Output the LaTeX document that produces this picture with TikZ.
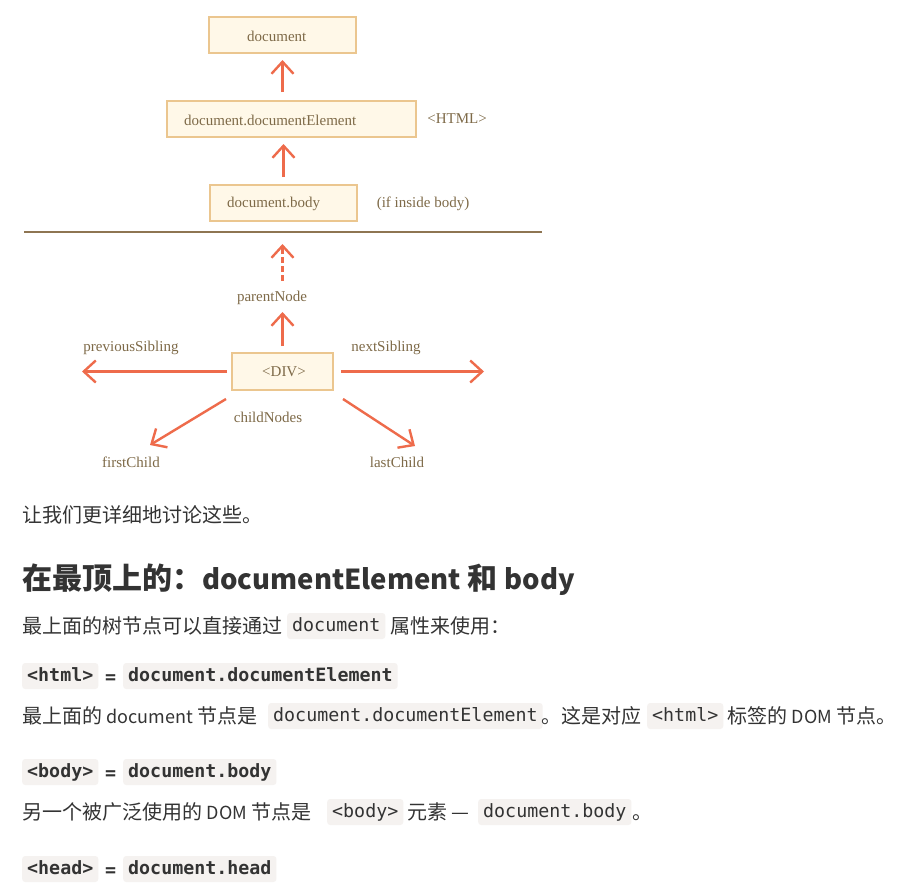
\documentclass[tikz,border=0pt]{standalone}
\usepackage{fontspec}
\setmainfont{Noto Sans CJK SC}
\newfontfamily\dgfont{Liberation Serif}
\newfontfamily\cdfont{DejaVu Sans Mono}
\usetikzlibrary{arrows.meta,calc}
\definecolor{boxfill}{HTML}{FFF8E8}
\definecolor{boxline}{HTML}{EBC68F}
\definecolor{arrowc}{HTML}{EE6B4B}
\definecolor{lblc}{HTML}{7E6A48}
\definecolor{rulec}{HTML}{8E7552}
\definecolor{codebg}{HTML}{F5F2F0}
\definecolor{txt}{HTML}{333333}
\newcommand\lat[1]{{\fontsize{27.5}{34}\selectfont #1}}
\newcommand\blat[1]{{\fontsize{18}{22}\selectfont #1}}
\begin{document}
\begin{tikzpicture}[x=1pt,y=-1pt,
  box/.style={draw=boxline, fill=boxfill, line width=2pt, minimum height=36pt, inner sep=0pt},
  lbl/.style={text=lblc, font=\dgfont\fontsize{15}{18}\selectfont, inner sep=0pt},
  arr/.style={draw=arrowc, line width=2.4pt, -{Straight Barb[length=12pt,width=22pt]}},
  tx/.style={text=txt, font=\fontsize{20}{24}\selectfont, inner sep=0pt, anchor=base west},
  code/.style={fill=codebg, rounded corners=3pt, text=txt, font=\cdfont\fontsize{18.3}{22}\selectfont, inner xsep=5pt, inner ysep=0pt, minimum height=26pt, text height=13pt, text depth=3pt, anchor=west},
  codeb/.style={code, font=\cdfont\bfseries\fontsize{18.3}{22}\selectfont}
]
\useasboundingbox[fill=white] (0,0) rectangle (914,884);

% top chain
\node[box, minimum width=147pt] (doc) at (282.5,35) {};
\node[lbl, anchor=west] (tdoc) at (247,36) {document};
\node[box, minimum width=249pt] (de) at (291.5,119) {};
\node[lbl, anchor=west] (tde) at (184,120) {document.documentElement};
\node[lbl] (html) at (457,119) {<HTML>};
\node[box, minimum width=147pt] (body) at (283.5,203) {};
\node[lbl, anchor=west] (tbody) at (227,204) {document.body};
\node[lbl] (ifin) at (423,204) {(if inside body)};

\draw[arr] ($(doc.south |- de.north)+(0,-8)$) -- ($(doc.south)+(0,6)$);
\draw[arr] ($(body.north)+(0,-7)$) -- ($(body.north |- de.south)+(0,6)$);

% rule
\coordinate (r1) at (24,232);
\coordinate (r2) at (542,232);
\draw[rulec, line width=2.5pt] (r1) -- (r2);

% DIV and relatives
\node[lbl] (pn) at (272,298) {parentNode};
\node[box, minimum width=101pt, minimum height=37pt] (div) at (282.5,371.5) {};
\node[lbl] (tdiv) at (284,372) {<DIV>};
\node[lbl] (ps) at (131,348) {previousSibling};
\node[lbl] (ns) at (386,348) {nextSibling};
\node[lbl] (cn) at (268,417) {childNodes};
\node[lbl] (fc) at (131,462) {firstChild};
\node[lbl] (lc) at (397,462) {lastChild};
\coordinate (lend) at (82,371.5);
\coordinate (rend) at (484,371.5);
\coordinate (fcs) at (226,399);
\coordinate (fce) at (150,445);
\coordinate (lcs) at (343,399);
\coordinate (lce) at (415,446);

\draw[arr, dash pattern=on 6pt off 3pt] ($(div.north |- pn.north)+(0,-10)$) -- ($(div.north |- r1)+(0,12)$);
\draw[arr] ($(div.north)+(0,-6)$) -- ($(div.north |- pn.south)+(0,7)$);
\draw[arr] ($(div.west)+(-4,0)$) -- (lend);
\draw[arr] ($(div.east)+(7,0)$) -- (rend);
\draw[arr] (fcs) -- (fce);
\draw[arr] (lcs) -- (lce);

% text below
\node[tx] (t1) at (22,522) {让我们更详细地讨论这些。};
\node[tx, font=\bfseries\fontsize{30}{36}\selectfont] (h1) at (22,589) {在最顶上的：\lat{documentElement} 和 \lat{body}};
\node[tx] (t2) at (22,633) {最上面的树节点可以直接通过};
\node[code] (c1) at (287,626) {document};
\node[tx] (t3) at (390,633) {属性来使用：};

\node[codeb] (c2) at (22,676) {<html>};
\node[tx, font=\cdfont\bfseries\fontsize{18.3}{22}\selectfont] (eq1) at (105,683) {=};
\node[codeb] (c3) at (123,676) {document.documentElement};

\node[tx] (t4) at (22,723) {最上面的 \blat{document} 节点是};
\node[code] (c4) at (268,716) {document.documentElement};
\node[tx] (t5) at (541,723) {。这是对应};
\node[code] (c5) at (647,716) {<html>};
\node[tx] (t6) at (727,723) {标签的 \blat{DOM} 节点。};

\node[codeb] (c6) at (22,772) {<body>};
\node[tx, font=\cdfont\bfseries\fontsize{18.3}{22}\selectfont] (eq2) at (105,779) {=};
\node[codeb] (c7) at (123,772) {document.body};

\node[tx] (t7) at (22,819) {另一个被广泛使用的 \blat{DOM} 节点是};
\node[code] (c8) at (327,812) {<body>};
\node[tx] (t8) at (407,819) {元素 —};
\node[code] (c9) at (478,812) {document.body};
\node[tx] (t9) at (632,819) {。};

\node[codeb] (c10) at (22,869) {<head>};
\node[tx, font=\cdfont\bfseries\fontsize{18.3}{22}\selectfont] (eq3) at (105,876) {=};
\node[codeb] (c11) at (123,869) {document.head};
\end{tikzpicture}
\end{document}
